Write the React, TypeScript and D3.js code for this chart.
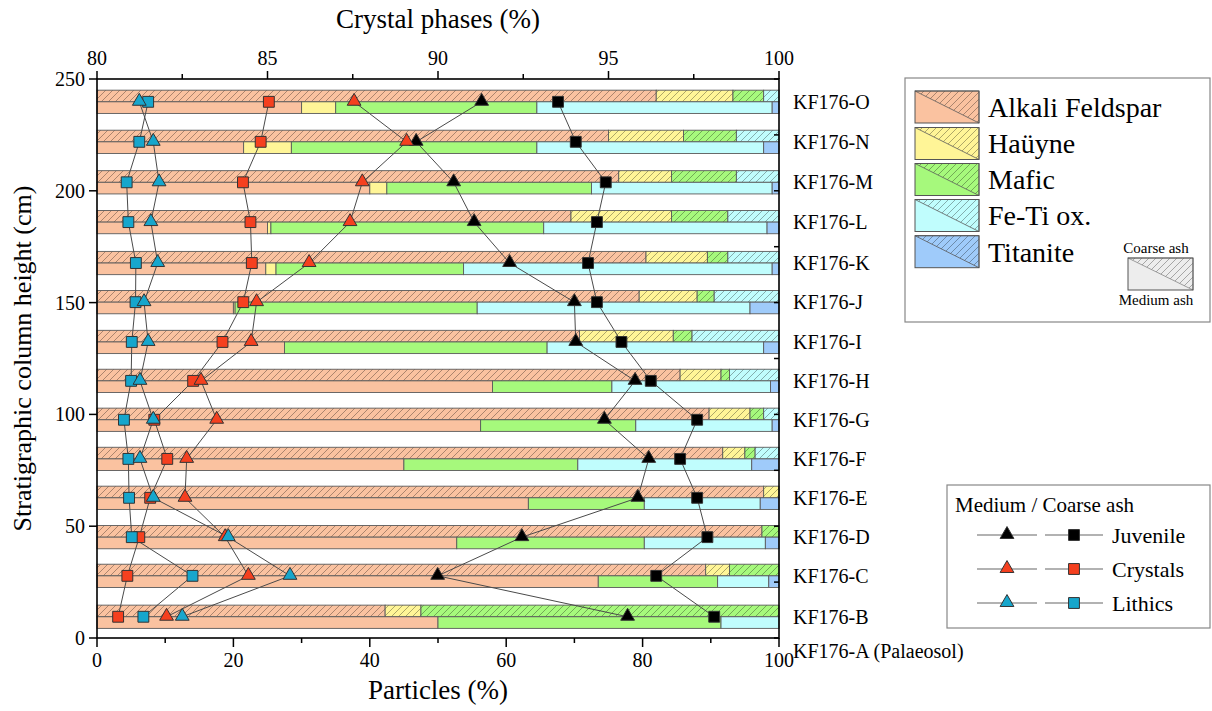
import React from "react";
import * as d3 from "d3";

// ---- data ----
const samples = ["KF176-O", "KF176-N", "KF176-M", "KF176-L", "KF176-K", "KF176-J", "KF176-I", "KF176-H", "KF176-G", "KF176-F", "KF176-E", "KF176-D", "KF176-C", "KF176-B"];
const heights = [239.8, 221.9, 203.8, 186.0, 167.7, 150.2, 132.4, 115.0, 97.6, 80.1, 62.7, 45.1, 27.8, 9.5];
const extraLabel = "KF176-A (Palaeosol)";
const extraHeight = -5.8;

// crystal phases (%), coarse ash
const afC = [96.4, 95.0, 95.3, 93.9, 96.1, 95.9, 94.15, 97.1, 97.95, 98.35, 99.55, 99.5, 97.85, 88.45];
const hyC = [2.25, 2.2, 1.55, 2.95, 1.8, 1.7, 2.75, 1.2, 1.2, 0.65, 0.45, 0, 0.7, 1.05];
const mafC = [0.9, 1.55, 1.9, 1.65, 0.6, 0.5, 0.55, 0.25, 0.4, 0.3, 0, 0.5, 1.45, 10.5];
const fetiC = [0.45, 1.25, 1.25, 1.5, 1.5, 1.9, 2.55, 1.45, 0.45, 0.7, 0, 0, 0, 0];
const titC = [0, 0, 0, 0, 0, 0, 0, 0, 0, 0, 0, 0, 0, 0];
// crystal phases (%), medium ash
const afM = [86.0, 84.3, 88.0, 85.0, 84.95, 84.0, 85.5, 91.6, 91.25, 89.0, 92.65, 90.55, 94.7, 90.0];
const hyM = [1.0, 1.4, 0.5, 0.1, 0.3, 0.05, 0, 0, 0, 0, 0, 0, 0, 0];
const mafM = [5.9, 7.2, 6.0, 8.0, 5.5, 7.1, 7.7, 3.5, 4.55, 5.1, 3.4, 5.5, 3.5, 8.3];
const fetiM = [6.9, 6.65, 5.3, 6.55, 9.05, 8.0, 6.35, 4.65, 4.0, 5.1, 3.4, 3.55, 1.5, 1.7];
const titM = [0.2, 0.45, 0.2, 0.35, 0.2, 0.85, 0.45, 0.25, 0.2, 0.8, 0.55, 0.4, 0.3, 0];

// particles (%): medium ash (triangles) / coarse ash (squares)
const juvMed = [56.4, 46.8, 52.3, 55.3, 60.5, 70.0, 70.2, 78.9, 74.4, 80.9, 79.3, 62.3, 49.95, 77.8];
const juvCoarse = [67.6, 70.2, 74.6, 73.3, 72.0, 73.3, 76.9, 81.2, 88.0, 85.5, 88.0, 89.5, 82.0, 90.5];
const crysMed = [37.7, 45.4, 38.9, 37.1, 31.1, 23.4, 22.6, 15.25, 17.55, 13.15, 12.9, 18.8, 22.2, 10.2];
const crysCoarse = [25.2, 24.0, 21.4, 22.5, 22.7, 21.45, 18.4, 14.1, 8.4, 10.3, 7.8, 6.2, 4.45, 3.1];
const lithMed = [6.2, 8.25, 9.1, 7.9, 8.9, 6.9, 7.5, 6.3, 8.25, 6.3, 8.25, 19.25, 28.3, 12.5];
const lithCoarse = [7.5, 6.2, 4.35, 4.6, 5.7, 5.65, 5.1, 5.0, 3.95, 4.6, 4.7, 5.1, 14.0, 6.8];

const phaseNames = ["Alkali Feldspar", "Haüyne", "Mafic", "Fe-Ti ox.", "Titanite"];
const phaseColors = ["#FAC2A0", "#FFF597", "#A6F97C", "#C0FDFD", "#9FCBFA"];
const particleNames = ["Juvenile", "Crystals", "Lithics"];
const particleColors = ["#000000", "#F5401F", "#17A6CC"];

const topTicks = [80, 85, 90, 95, 100];
const bottomTicks = [0, 20, 40, 60, 80, 100];
const leftTicks = [0, 50, 100, 150, 200, 250];

const FONT = "'Liberation Serif', 'Times New Roman', serif";

export default function App() {
  const W = 1212, H = 711;
  const L = 97, R = 779, T = 79, B = 638;
  const xTop = d3.scaleLinear().domain([80, 100]).range([L, R]);
  const xBot = d3.scaleLinear().domain([0, 100]).range([L, R]);
  const y = d3.scaleLinear().domain([0, 250]).range([B, T]);
  const barH = 5.2;

  const coarse = [afC, hyC, mafC, fetiC, titC];
  const medium = [afM, hyM, mafM, fetiM, titM];

  const segs = (arr: number[][], i: number) => {
    const vals = arr.map((a) => a[i]);
    const cum = Array.from(d3.cumsum(vals));
    return vals.map((v, k) => ({ k, v, s: k === 0 ? 0 : cum[k - 1], e: cum[k] })).filter((d) => d.v > 0);
  };

  const tri = d3.symbol(d3.symbolTriangle, 82)() as string;
  const sq = d3.symbol(d3.symbolSquare, 118)() as string;

  const series = [
    { med: juvMed, coarse: juvCoarse, color: particleColors[0] },
    { med: crysMed, coarse: crysCoarse, color: particleColors[1] },
    { med: lithMed, coarse: lithCoarse, color: particleColors[2] },
  ];
  const line = (vals: number[]) =>
    d3.line<number>().x((v) => xBot(v)).y((_, i) => y(heights[i]))(vals) as string;

  const minorTop = d3.range(80, 100.01, 2.5).filter((v) => !topTicks.includes(v));
  const minorBottom = d3.range(0, 100.01, 10).filter((v) => !bottomTicks.includes(v));
  const rightTicks = d3.range(0, 250.01, 25);

  const swX = 915, swW = 64, swH = 32;
  const swY = [91, 127.5, 163.5, 199.5, 235.7];

  return (
    <svg width={W} height={H} style={{ position: "absolute", left: 0, top: 0, background: "#fff" }} fontFamily={FONT}>
      <defs>
        {phaseColors.map((c, k) => (
          <pattern key={k} id={`hatch${k}`} patternUnits="userSpaceOnUse" width={7} height={7}>
            <rect width={7} height={7} fill={c} />
            <path d="M-1,1 l2,-2 M0,7 l7,-7 M6,8 l2,-2" stroke="#000" strokeOpacity={0.4} strokeWidth={0.8} />
          </pattern>
        ))}
        <pattern id="hatchGray" patternUnits="userSpaceOnUse" width={7} height={7}>
          <rect width={7} height={7} fill="#EDEDED" />
          <path d="M-1,1 l2,-2 M0,7 l7,-7 M6,8 l2,-2" stroke="#000" strokeOpacity={0.38} strokeWidth={0.8} />
        </pattern>
      </defs>

      {/* bars */}
      {samples.map((s, i) => (
        <g key={s}>
          {segs(coarse, i).map((d) => (
            <rect key={"c" + d.k} x={xTop(Math.max(80, d.s))} y={y(heights[i] + barH)}
              width={Math.max(0, xTop(d.e) - xTop(Math.max(80, d.s)))} height={y(heights[i]) - y(heights[i] + barH)}
              fill={`url(#hatch${d.k})`} stroke="#5a5a5a" strokeWidth={0.9} />
          ))}
          {segs(medium, i).map((d) => (
            <rect key={"m" + d.k} x={xTop(Math.max(80, d.s))} y={y(heights[i])}
              width={Math.max(0, xTop(d.e) - xTop(Math.max(80, d.s)))} height={y(heights[i] - barH) - y(heights[i])}
              fill={phaseColors[d.k]} stroke="#5a5a5a" strokeWidth={0.9} />
          ))}
        </g>
      ))}

      {/* connecting lines */}
      {series.map((sr, j) => (
        <g key={"l" + j} fill="none" stroke="#4a4a4a" strokeWidth={1}>
          <path d={line(sr.med)} />
          <path d={line(sr.coarse)} />
        </g>
      ))}
      {/* markers: squares then triangles */}
      {series.map((sr, j) => (
        <g key={"sq" + j}>
          {sr.coarse.map((v, i) => (
            <path key={i} d={sq} transform={`translate(${xBot(v)},${y(heights[i])})`} fill={sr.color} stroke="#333" strokeWidth={1} />
          ))}
        </g>
      ))}
      {series.map((sr, j) => (
        <g key={"tr" + j}>
          {sr.med.map((v, i) => (
            <path key={i} d={tri} transform={`translate(${xBot(v)},${y(heights[i]) - 0.5})`} fill={sr.color} stroke="#333" strokeWidth={1} />
          ))}
        </g>
      ))}

      {/* frame */}
      <rect x={L} y={T} width={R - L} height={B - T} fill="none" stroke="#000" strokeWidth={1.6} />

      {/* top axis */}
      {topTicks.map((t) => (
        <g key={"tt" + t}>
          <line x1={xTop(t)} x2={xTop(t)} y1={T} y2={T - 8} stroke="#000" strokeWidth={1.5} />
          <text x={xTop(t)} y={T - 14} textAnchor="middle" fontSize={20}>{t}</text>
        </g>
      ))}
      {minorTop.map((t) => (
        <line key={"tm" + t} x1={xTop(t)} x2={xTop(t)} y1={T} y2={T - 5} stroke="#000" strokeWidth={1.5} />
      ))}
      <text x={(L + R) / 2} y={28} textAnchor="middle" fontSize={27}>Crystal phases (%)</text>

      {/* bottom axis */}
      {bottomTicks.map((t) => (
        <g key={"bt" + t}>
          <line x1={xBot(t)} x2={xBot(t)} y1={B} y2={B + 9} stroke="#000" strokeWidth={1.5} />
          <text x={xBot(t)} y={B + 29} textAnchor="middle" fontSize={20}>{t}</text>
        </g>
      ))}
      {minorBottom.map((t) => (
        <line key={"bm" + t} x1={xBot(t)} x2={xBot(t)} y1={B} y2={B + 5} stroke="#000" strokeWidth={1.5} />
      ))}
      <text x={(L + R) / 2} y={699} textAnchor="middle" fontSize={27}>Particles (%)</text>

      {/* left axis */}
      {leftTicks.map((t) => (
        <g key={"lt" + t}>
          <line x1={L} x2={L - 8} y1={y(t)} y2={y(t)} stroke="#000" strokeWidth={1.5} />
          <text x={L - 12} y={y(t)} dy="0.35em" textAnchor="end" fontSize={20}>{t}</text>
        </g>
      ))}
      <text transform={`translate(31,${(T + B) / 2}) rotate(-90)`} textAnchor="middle" fontSize={26}>Stratigraphic column height (cm)</text>

      {/* right axis */}
      {rightTicks.map((t) => (
        <line key={"rt" + t} x1={R} x2={R - 5} y1={y(t)} y2={y(t)} stroke="#000" strokeWidth={1.5} />
      ))}
      {samples.map((s, i) => (
        <text key={"rl" + s} x={793} y={y(heights[i])} dy="0.35em" fontSize={20}>{s}</text>
      ))}
      <text x={793} y={y(extraHeight)} dy="0.35em" fontSize={20}>{extraLabel}</text>

      {/* legend 1 */}
      <rect x={905} y={78} width={305} height={244} fill="#fff" stroke="#888" strokeWidth={1.2} />
      {phaseNames.map((n, k) => (
        <g key={"lg" + k}>
          <rect x={swX} y={swY[k]} width={swW} height={swH} fill={phaseColors[k]} />
          <path d={`M${swX},${swY[k]} L${swX + swW},${swY[k]} L${swX + swW},${swY[k] + swH} Z`} fill={`url(#hatch${k})`} stroke="#5a5a5a" strokeWidth={0.8} />
          <rect x={swX} y={swY[k]} width={swW} height={swH} fill="none" stroke="#555" strokeWidth={1} />
          <text x={988} y={swY[k] + swH / 2} dy="0.35em" fontSize={28}>{n}</text>
        </g>
      ))}
      <text x={1156} y={248} dy="0.35em" textAnchor="middle" fontSize={15}>Coarse ash</text>
      <rect x={1128} y={258} width={65} height={32} fill="#EDEDED" />
      <path d={`M1128,258 L1193,258 L1193,290 Z`} fill="url(#hatchGray)" stroke="#888" strokeWidth={0.8} />
      <rect x={1128} y={258} width={65} height={32} fill="none" stroke="#555" strokeWidth={1} />
      <text x={1156} y={300} dy="0.35em" textAnchor="middle" fontSize={15}>Medium ash</text>

      {/* legend 2 */}
      <rect x={947} y={485} width={263} height={143} fill="#fff" stroke="#888" strokeWidth={1.2} />
      <text x={955} y={505} dy="0.35em" fontSize={21}>Medium / Coarse ash</text>
      {particleNames.map((n, j) => {
        const yy = 535 + j * 34;
        return (
          <g key={"pl" + j}>
            <line x1={977} x2={1037} y1={yy} y2={yy} stroke="#999" strokeWidth={1.5} />
            <line x1={1045} x2={1103} y1={yy} y2={yy} stroke="#999" strokeWidth={1.5} />
            <path d={tri} transform={`translate(1007,${yy - 0.5})`} fill={particleColors[j]} stroke="#333" strokeWidth={1} />
            <path d={sq} transform={`translate(1074,${yy})`} fill={particleColors[j]} stroke="#333" strokeWidth={1} />
            <text x={1112} y={yy} dy="0.35em" fontSize={22}>{n}</text>
          </g>
        );
      })}
    </svg>
  );
}
